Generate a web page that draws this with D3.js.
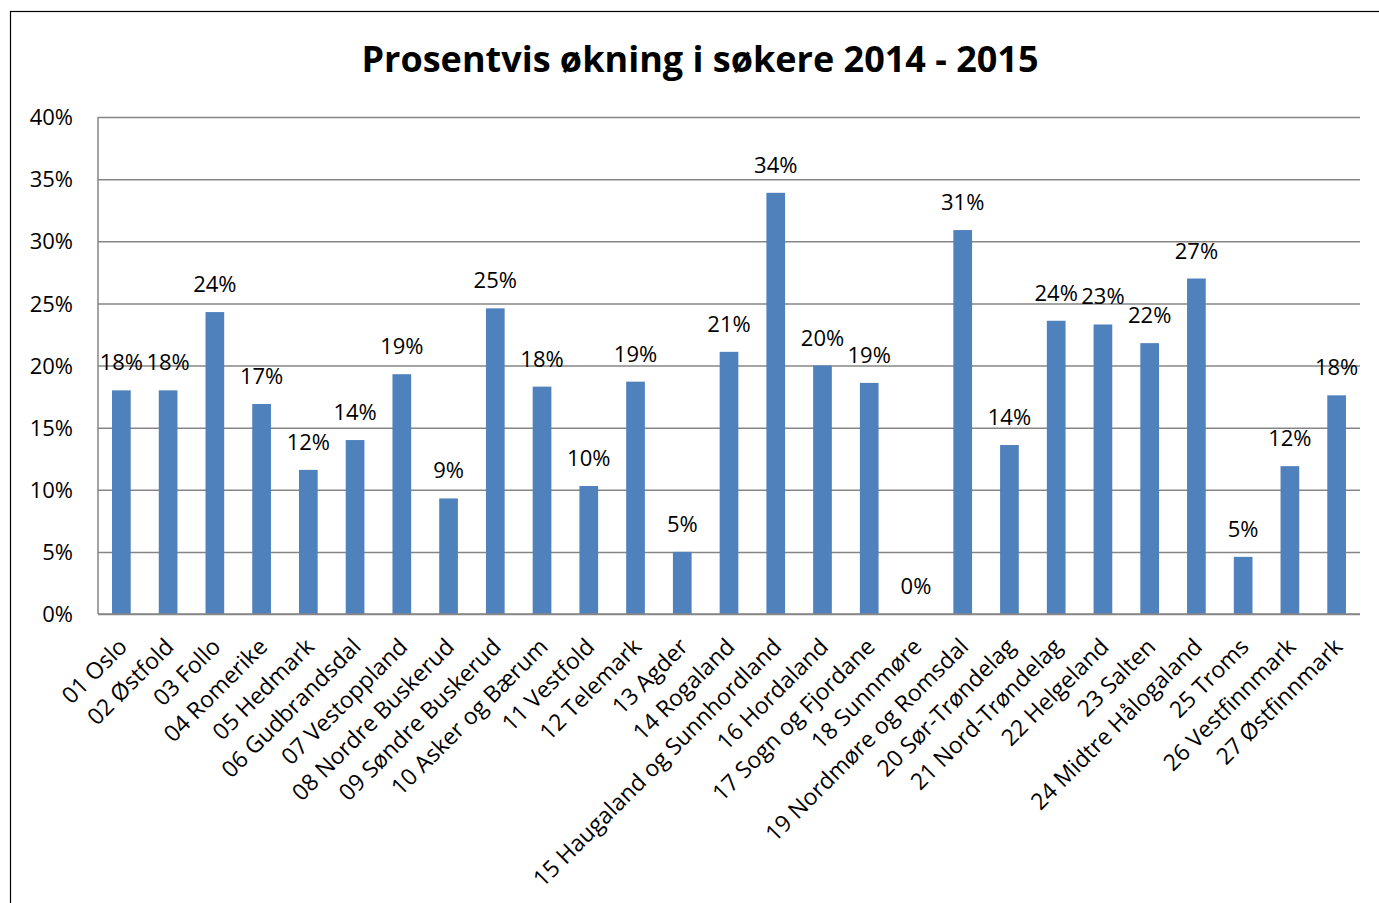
<!DOCTYPE html>
<html>
<head>
<meta charset="utf-8">
<script src="https://cdn.jsdelivr.net/npm/d3@7"></script>
<style>
  body { margin: 0; background: #fff; }
  svg text { font-family: "Open Sans", "Noto Sans", sans-serif; fill: #000; }
</style>
</head>
<body>
<svg id="chart" width="1379" height="903"></svg>
<script>
// data (percent growth in applicants 2014 - 2015)
var categories = [
  "01 Oslo", "02 Østfold", "03 Follo", "04 Romerike", "05 Hedmark",
  "06 Gudbrandsdal", "07 Vestoppland", "08 Nordre Buskerud", "09 Søndre Buskerud",
  "10 Asker og Bærum", "11 Vestfold", "12 Telemark", "13 Agder", "14 Rogaland",
  "15 Haugaland og Sunnhordland", "16 Hordaland", "17 Sogn og Fjordane",
  "18 Sunnmøre", "19 Nordmøre og Romsdal", "20 Sør-Trøndelag", "21 Nord-Trøndelag",
  "22 Helgeland", "23 Salten", "24 Midtre Hålogaland", "25 Troms",
  "26 Vestfinnmark", "27 Østfinnmark"
]
var values = [
  18.0, 18.0, 24.3, 16.9, 11.6, 14.0, 19.3, 9.3, 24.6,
  18.3, 10.3, 18.7, 5.0, 21.1, 33.9, 20.0, 18.6, 0.0,
  30.9, 13.6, 23.6, 23.3, 21.8, 27.0, 4.6, 11.9, 17.6
]
var yTicks = [0, 5, 10, 15, 20, 25, 30, 35, 40]
var title = "Prosentvis økning i søkere 2014 - 2015"

var data = categories.map(function (c, i) { return { cat: c, v: values[i] } })

var plotLeft = 98, plotRight = 1360, plotTop = 117, plotBottom = 614

var svg = d3.select("#chart")

// outer frame (runs off the bottom/right of the picture)
svg.append("rect")
  .attr("x", 10.5).attr("y", 11.5)
  .attr("width", 1400).attr("height", 920)
  .attr("fill", "none").attr("stroke", "#000").attr("stroke-width", 1.2)

var x = d3.scaleBand()
  .domain(categories)
  .range([plotLeft, plotRight])
  .paddingInner(0.6)
  .paddingOuter(0.3)

var y = d3.scaleLinear()
  .domain([0, 40])
  .range([plotBottom, plotTop])

// gridlines + y labels
var yAxis = svg.append("g")
  .attr("transform", "translate(" + plotLeft + ",0)")
  .call(d3.axisLeft(y).tickValues(yTicks).tickSize(-(plotRight - plotLeft)).tickPadding(25)
    .tickFormat(function (d) { return d + "%" }))
yAxis.select(".domain").remove()
yAxis.selectAll(".tick line").attr("stroke", "#868686").attr("stroke-width", 1.5)
yAxis.selectAll(".tick text").style("font-size", "22px").attr("dy", "0.35em")

// left axis line
svg.append("line")
  .attr("x1", plotLeft).attr("x2", plotLeft).attr("y1", plotTop).attr("y2", plotBottom)
  .attr("stroke", "#868686").attr("stroke-width", 1.5)

// bars
svg.append("g")
  .selectAll("rect")
  .data(data)
  .join("rect")
  .attr("x", function (d) { return x(d.cat) })
  .attr("y", function (d) { return y(d.v) })
  .attr("width", x.bandwidth())
  .attr("height", function (d) { return plotBottom - y(d.v) })
  .attr("fill", "#4f81bd")

// bottom axis line
svg.append("line")
  .attr("x1", plotLeft).attr("x2", plotRight).attr("y1", plotBottom).attr("y2", plotBottom)
  .attr("stroke", "#868686").attr("stroke-width", 1.5)

// value labels
svg.append("g")
  .selectAll("text")
  .data(data)
  .join("text")
  .attr("x", function (d) { return x(d.cat) + x.bandwidth() / 2 })
  .attr("y", function (d) { return y(d.v) - 20 })
  .attr("text-anchor", "middle")
  .style("font-size", "22px")
  .text(function (d) { return Math.round(d.v) + "%" })

// category labels, rotated
svg.append("g")
  .selectAll("text")
  .data(data)
  .join("text")
  .attr("transform", function (d) {
    return "translate(" + (x(d.cat) + x.bandwidth() / 2 - 5) + "," + (plotBottom + 22) + ") rotate(-45)"
  })
  .attr("text-anchor", "end")
  .attr("dy", "0.75em")
  .style("font-size", "23px")
  .text(function (d) { return d.cat })

// title
svg.append("text")
  .attr("x", 700)
  .attr("y", 72)
  .attr("text-anchor", "middle")
  .style("font-size", "36px")
  .style("font-weight", "bold")
  .text(title)
</script>
</body>
</html>
